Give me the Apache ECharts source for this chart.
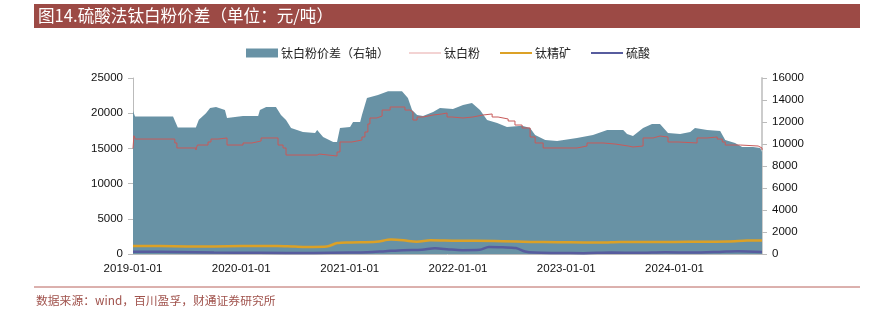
<!DOCTYPE html>
<html>
<head>
<meta charset="utf-8">
<script src="https://cdn.jsdelivr.net/npm/echarts@6/dist/echarts.min.js"></script>
<style>
html,body{margin:0;padding:0;background:#fff;}
#c{width:881px;height:314px;}
</style>
</head>
<body>
<div id="c"></div>
<script>
// ---- data ----
const titleText = '图14.硫酸法钛白粉价差（单位：元/吨）';
const sourceText = '数据来源：wind，百川盈孚，财通证券研究所';
const seriesNames = ['钛白粉价差（右轴）', '钛白粉', '钛精矿', '硫酸'];
const xTickLabels = ['2019-01-01','2020-01-01','2021-01-01','2022-01-01','2023-01-01','2024-01-01'];

const spreadDates = ['2019-01-01','2019-01-08','2019-05-16','2019-05-19','2019-06-01','2019-08-01','2019-08-11','2019-09-04','2019-09-18','2019-10-08','2019-11-07','2019-11-14','2020-01-07','2020-02-27','2020-03-04','2020-03-25','2020-04-27','2020-05-14','2020-05-31','2020-06-17','2020-07-27','2020-09-06','2020-09-13','2020-10-03','2020-11-06','2020-11-19','2020-11-29','2021-01-02','2021-01-12','2021-02-05','2021-02-11','2021-02-28','2021-04-06','2021-05-10','2021-06-26','2021-07-16','2021-07-30','2021-08-16','2021-09-05','2021-10-09','2021-11-01','2021-12-15','2022-01-18','2022-02-17','2022-03-16','2022-04-09','2022-05-13','2022-06-15','2022-08-05','2022-09-01','2022-09-18','2022-10-22','2022-12-01','2023-02-06','2023-04-01','2023-05-19','2023-07-12','2023-07-25','2023-08-14','2023-09-17','2023-10-17','2023-11-13','2023-12-10','2024-01-20','2024-02-23','2024-03-10','2024-04-20','2024-06-03','2024-06-20','2024-07-23','2024-08-16','2024-09-22','2024-10-16','2024-10-22'];
const spreadValues = [13000,12500,12500,12600,11500,11500,12200,12800,13270,13360,13100,12360,12545,12545,13090,13360,13360,12640,12180,11450,11100,11000,11270,10640,10180,10180,11450,11550,12000,12000,12640,14180,14450,14800,14800,14180,13090,12640,12545,12900,13270,13180,13550,13730,13090,12180,11900,11550,11650,11450,10820,10360,10270,10550,10820,11270,11270,10900,10730,11450,11820,11820,11000,10900,11090,11450,11270,11180,10360,10090,9730,9730,9640,9270];

const tio2Dates = ['2019-01-01','2019-01-04','2019-01-09','2019-05-22','2019-05-29','2019-08-01','2019-08-06','2019-09-11','2019-09-21','2019-10-15','2019-11-14','2020-01-07','2020-02-06','2020-03-08','2020-05-04','2020-05-21','2020-05-31','2020-09-13','2020-09-20','2020-11-19','2020-11-29','2021-01-08','2021-02-11','2021-02-21','2021-03-03','2021-03-10','2021-04-02','2021-04-20','2021-05-17','2021-07-06','2021-07-23','2021-08-02','2021-08-16','2021-09-05','2021-10-09','2021-11-08','2021-11-25','2021-12-12','2022-01-18','2022-02-20','2022-03-26','2022-04-26','2022-05-16','2022-06-19','2022-07-12','2022-08-05','2022-09-01','2022-09-18','2022-10-15','2023-02-06','2023-03-12','2023-05-05','2023-06-15','2023-07-29','2023-08-14','2023-09-17','2023-10-21','2023-11-13','2023-12-10','2024-01-13','2024-03-17','2024-04-20','2024-05-24','2024-06-10','2024-06-20','2024-08-10','2024-10-09','2024-10-22'];
const tio2Values = [15000,16800,16330,15770,15060,14770,15480,15910,16330,16480,15480,15770,16050,16480,15480,15060,14060,14200,13920,14490,15910,16190,16620,17330,18470,19320,19600,20450,20880,20450,20170,19030,19460,19740,19890,20030,19460,19320,19460,19740,19890,19460,19180,18890,18320,17900,16620,15770,15060,15340,15770,15620,15340,15200,15340,16480,16760,16620,15910,15770,16480,16620,16330,15910,15480,15340,15060,14770];

const ilmeniteDates = ['2019-01-01','2019-04-01','2019-07-01','2019-10-01','2020-01-01','2020-03-01','2020-05-01','2020-07-01','2020-09-01','2020-10-15','2020-11-20','2021-01-01','2021-04-01','2021-05-20','2021-07-01','2021-08-15','2021-10-01','2022-01-01','2022-03-01','2022-06-01','2022-09-01','2022-12-01','2023-03-01','2023-05-01','2023-07-01','2023-10-01','2024-01-01','2024-04-01','2024-07-01','2024-09-01','2024-10-22'];
const ilmeniteValues = [1150,1120,1080,1080,1120,1150,1130,1050,1000,1050,1550,1650,1750,2050,1950,1750,1950,1870,1870,1820,1720,1680,1650,1620,1720,1700,1720,1750,1780,1900,1920];

const acidDates = ['2019-01-01','2019-06-01','2019-10-01','2020-03-01','2020-09-01','2021-01-01','2021-03-01','2021-05-01','2021-07-01','2021-09-01','2021-10-15','2021-12-01','2022-01-15','2022-03-15','2022-04-15','2022-06-01','2022-07-15','2022-08-15','2022-09-15','2022-12-01','2023-03-01','2023-06-01','2023-09-01','2023-12-01','2024-03-01','2024-06-01','2024-08-01','2024-10-22'];
const acidValues = [330,280,200,170,150,200,250,400,550,600,800,650,550,600,1000,950,850,350,200,150,120,200,160,250,200,300,400,280];

// ---- chart ----
function zip(d, v){ return d.map((x,i)=>[x, v[i]]); }
const chart = echarts.init(document.getElementById('c'), null, {renderer:'canvas'});
const sans = '"Liberation Sans", Arial, sans-serif';
const narrow = '"Liberation Sans Narrow", "Liberation Sans", Arial, sans-serif';
const cjk = '"Noto Sans CJK SC", sans-serif';
const YEAR = 365 * 86400000;
const lineIcon = 'path://M0,0 M32,9 M0,3.5 L32,3.5 L32,5.5 L0,5.5 Z';
const thinIcon = 'path://M0,0 M32,9 M0,4 L32,4 L32,5 L0,5 Z';

chart.setOption({
  animation:false,
  backgroundColor:'#fff',
  graphic:[
    {type:'rect', shape:{x:34,y:4,width:826,height:24}, style:{fill:'#9c4a45'}},
    {type:'text', x:38, y:16, style:{text:titleText, fill:'#fff', font:'16.6px "Noto Sans CJK SC"', textVerticalAlign:'middle'}},
    {type:'line', shape:{x1:34,y1:287,x2:860,y2:287}, style:{stroke:'#b8625c', lineWidth:1}},
    {type:'text', x:36, y:301, style:{text:sourceText, fill:'#a0524c', font:'11.8px "Noto Sans CJK SC"', textVerticalAlign:'middle'}}
  ],
  legend:{
    top:42, left:241, itemGap:20, itemWidth:32, itemHeight:9,
    textStyle:{fontFamily:cjk, fontSize:12, color:'#222', padding:[0,0,0,-2]},
    data:[
      {name:seriesNames[0], icon:'rect'},
      {name:seriesNames[1], icon:thinIcon},
      {name:seriesNames[2], icon:lineIcon},
      {name:seriesNames[3], icon:lineIcon}
    ]
  },
  grid:{left:133, right:119, top:78, bottom:60},
  xAxis:{
    type:'time',
    min:xTickLabels[0], max:'2024-10-22',
    minInterval: YEAR, maxInterval: YEAR + 86400000,
    axisLine:{show:true, lineStyle:{color:'#bbb'}},
    axisTick:{show:false},
    splitLine:{show:false},
    axisLabel:{
      color:'#111', fontFamily:narrow, fontSize:11.5, margin:9,
      formatter:'{yyyy}-{MM}-{dd}'
    }
  },
  yAxis:[
    {type:'value', min:0, max:25000, interval:5000, position:'left',
      axisLine:{show:true, lineStyle:{color:'#bbb'}},
      axisTick:{show:true, length:5, lineStyle:{color:'#bbb'}},
      splitLine:{show:false},
      axisLabel:{color:'#111', fontFamily:sans, fontSize:11.5, margin:10, formatter: v => String(v)}},
    {type:'value', min:0, max:16000, interval:2000, position:'right',
      axisLine:{show:true, lineStyle:{color:'#ccc', width:2}},
      axisTick:{show:true, length:5, lineStyle:{color:'#bbb'}},
      splitLine:{show:false},
      axisLabel:{color:'#111', fontFamily:sans, fontSize:11.5, margin:10, formatter: v => String(v)}}
  ],
  series:[
    {name:seriesNames[0], type:'line', yAxisIndex:1, data:zip(spreadDates, spreadValues),
      showSymbol:false, symbol:'none', lineStyle:{width:0, color:'#6892a5'},
      itemStyle:{color:'#6892a5'}, areaStyle:{color:'#6892a5', opacity:1}, z:1},
    {name:seriesNames[1], type:'line', yAxisIndex:0, data:zip(tio2Dates, tio2Values), step:'end',
      showSymbol:false, symbol:'none', lineStyle:{width:1, color:'#c85a5a'}, itemStyle:{color:'#e8a8a8'}, z:3},
    {name:seriesNames[2], type:'line', yAxisIndex:0, data:zip(ilmeniteDates, ilmeniteValues), smooth:0.3,
      showSymbol:false, symbol:'none', lineStyle:{width:2.5, color:'#dca126'}, itemStyle:{color:'#dca126'}, z:4},
    {name:seriesNames[3], type:'line', yAxisIndex:0, data:zip(acidDates, acidValues), smooth:0.3,
      showSymbol:false, symbol:'none', lineStyle:{width:2.5, color:'#575c9e'}, itemStyle:{color:'#575c9e'}, z:5}
  ]
});
</script>
</body>
</html>
